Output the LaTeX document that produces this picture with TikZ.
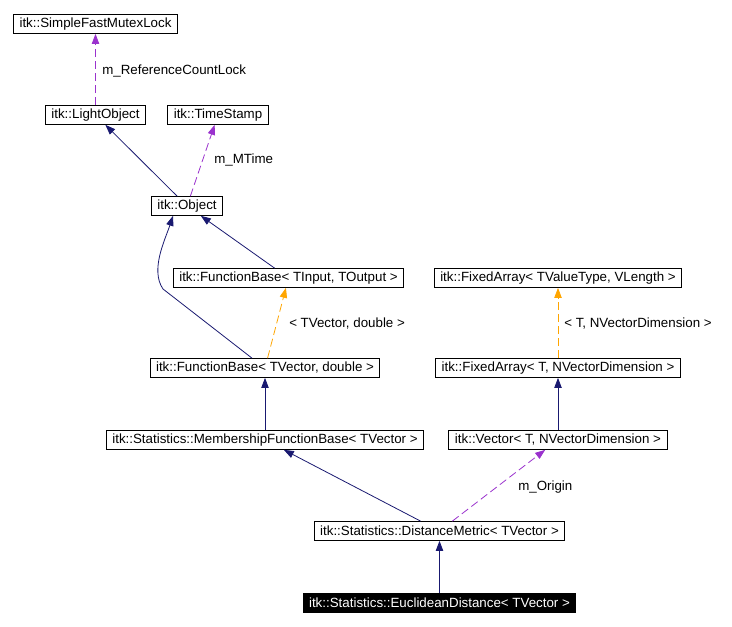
\documentclass[tikz,border=0pt]{standalone}
\usepackage{fontspec}
\setmainfont{Liberation Sans}
\usetikzlibrary{arrows.meta,calc}
\definecolor{inh}{HTML}{191970}
\definecolor{use}{HTML}{9A32CD}
\definecolor{tmpl}{HTML}{FFA500}
\begin{document}
\begin{tikzpicture}[x=0.75pt,y=-0.75pt,
    cls/.style={draw,line width=0.75pt,inner xsep=4.5pt,inner ysep=0pt,minimum height=14pt,font=\fontsize{10}{12}\selectfont},
    this/.style={cls,fill=black,text=white},
    tip/.style={-{Triangle[length=7.5pt,width=5.5pt]}},
    inherit/.style={tip,draw=inh,line width=0.6pt},
    member/.style={tip,draw=use,dash pattern=on 6pt off 3pt,line width=0.6pt},
    tmplarg/.style={tip,draw=tmpl,dash pattern=on 6pt off 3pt,line width=0.6pt},
    lbl/.style={anchor=west,inner sep=0pt,font=\fontsize{10}{12}\selectfont}]
        \useasboundingbox (0,0) rectangle (732,627);
        \node[cls](mutex)at(95.5,24){itk::SimpleFastMutexLock};
        \node[cls](lightobj)at(95.5,115){itk::LightObject};
        \node[cls](stamp)at(218,115){itk::TimeStamp};
        \node[cls](object)at(187,206){itk::Object};
        \node[cls](fbase)at(288.5,278){itk::FunctionBase< TInput, TOutput >};
        \node[cls](fbvec)at(265,368){itk::FunctionBase< TVector, double >};
        \node[cls](farray)at(558,278){itk::FixedArray< TValueType, VLength >};
        \node[cls](fanvd)at(558,368){itk::FixedArray< T, NVectorDimension >};
        \node[cls](mfbase)at(265,440){itk::Statistics::MembershipFunctionBase< TVector >};
        \node[cls](vector)at(558,440){itk::Vector< T, NVectorDimension >};
        \node[cls](metric)at(439.5,531){itk::Statistics::DistanceMetric< TVector >};
        \node[this](euclid)at(439.5,603){itk::Statistics::EuclideanDistance< TVector >};
        \draw[member](lightobj)--(mutex);
        \draw[inherit](object)--(lightobj);
        \draw[member](object)--(stamp);
        \draw[inherit](fbase)--(object);
        \draw[inherit]($(fbvec.north)+(-13,0)$)--(163,289)..controls(150,270)and(165,240)..($(object.south)+(-14,0)$);
        \draw[tmplarg](fbvec)--(fbase);
        \draw[tmplarg](fanvd)--(farray);
        \draw[inherit](mfbase)--(fbvec);
        \draw[inherit](vector)--(fanvd);
        \draw[inherit](metric)--(mfbase);
        \draw[member](metric)--(vector);
        \draw[inherit](euclid)--(metric);
        \node[lbl](reflock)at(102,71){m\_ReferenceCountLock};
        \node[lbl](mtime)at(214,160){m\_MTime};
        \node[lbl](fbargs)at(289,324){< TVector, double >};
        \node[lbl](faargs)at(564,324){< T, NVectorDimension >};
        \node[lbl](origin)at(518,487){m\_Origin};
    \end{tikzpicture}
\end{document}
